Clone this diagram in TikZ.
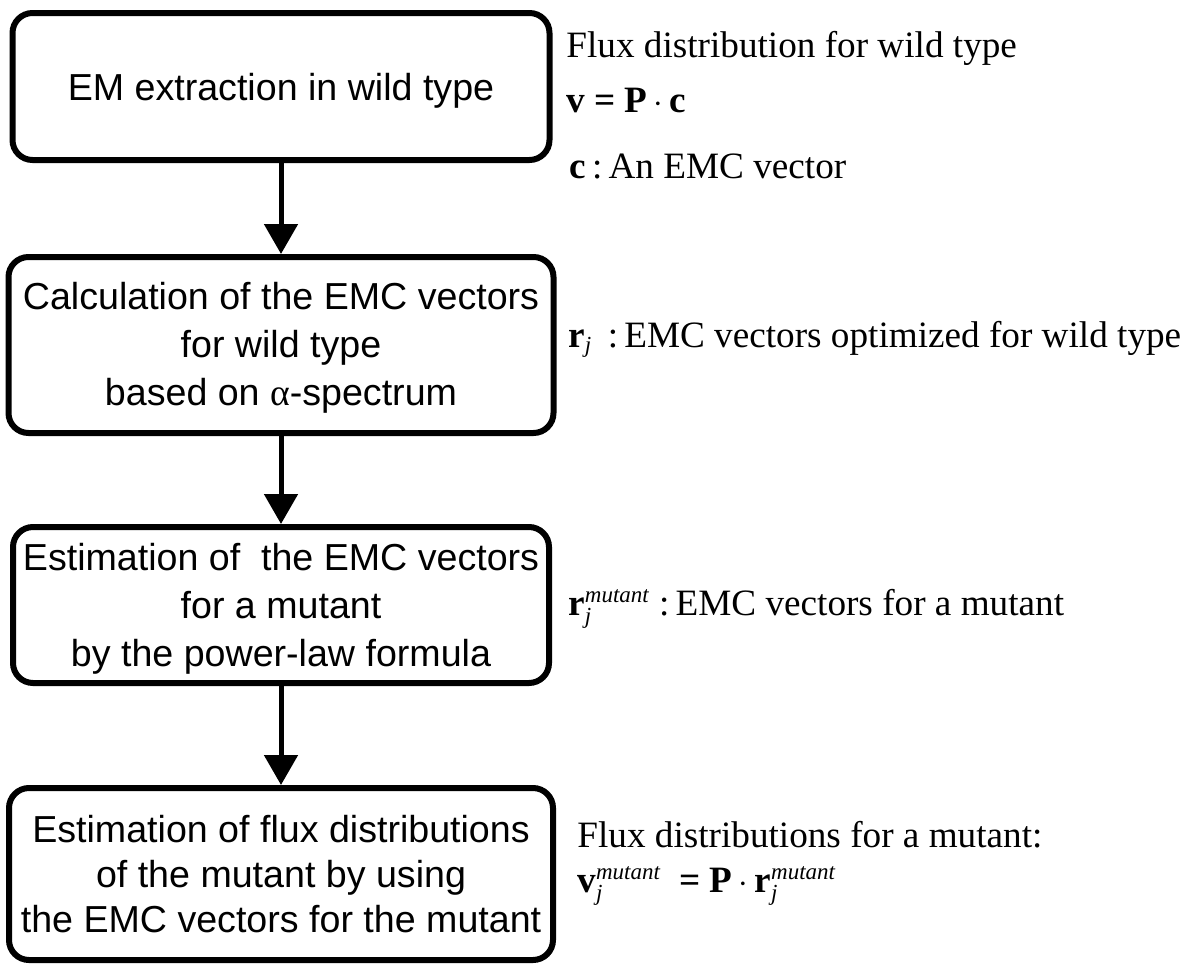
\documentclass[tikz,border=0pt]{standalone}
\usepackage{amsmath}
\usepackage{fontspec}
\setmainfont{Liberation Serif}
\setsansfont{Liberation Sans}
\DeclareMathSizes{18.6}{18.6}{11.5}{8}
\usetikzlibrary{arrows.meta}

\begin{document}
\begin{tikzpicture}[x=0.5pt, y=-0.5pt,
    stepbox/.style={draw, line width=3pt, rounded corners=10pt, align=center,
        inner sep=0pt, font=\sffamily\fontsize{18.8}{24}\selectfont},
    flow/.style={line width=2.5pt, -{Triangle[width=16.5pt,length=15pt]}},
    note/.style={anchor=base west, inner sep=0pt, font=\fontsize{18.6}{22}\selectfont}]
  \useasboundingbox (0,0) rectangle (1200,970);

  % Steps
  \node[stepbox, minimum width=268.5pt, minimum height=73.5pt, text depth=-3pt] (extract) at (281,86.5)
    {EM extraction in wild type};
  \node[stepbox, minimum width=272.5pt, minimum height=88pt, text depth=1pt] (calc) at (281,345)
    {Calculation of the EMC vectors\\ for wild type\\ based on {\rmfamily α}-spectrum};
  \node[stepbox, minimum width=268pt, minimum height=78pt, text depth=-6pt] (estim) at (281,605)
    {Estimation of~ the EMC vectors\\ for a mutant\\ by the power-law formula};
  \node[stepbox, minimum width=272pt, minimum height=86pt, text depth=-2pt,
        font=\sffamily\fontsize{18.8}{22.5}\selectfont] (flux) at (281,874)
    {Estimation of flux distributions\\ of the mutant by using\\ the EMC vectors for the mutant};

  % Arrows
  \draw[flow] (extract) -- (calc);
  \draw[flow] (calc) -- (estim);
  \draw[flow] (estim) -- (flux);

  % Notes
  \node[note] (fluxwt) at (566,57) {Flux distribution for wild type};
  \node[note] (veq) at (566,112) {\textbf{v = P}\,$\cdot$\,\textbf{c}};
  \node[note] (cdef) at (569,178) {\textbf{c}\,:\,An EMC vector};
  \node[note] (rdef) at (568,347) {\textbf{r}$_{\textit{j}}$\ \,:\,EMC vectors optimized for wild type};
  \node[note] (rmut) at (568,615) {\textbf{r}$_{\textit{j}}^{\textit{mutant}}$\ :\,EMC vectors for a mutant};
  \node[note] (fluxmut) at (577,847) {Flux distributions for a mutant:};
  \node[note] (vmut) at (577,892)
    {\textbf{v}$_{\textit{j}}^{\textit{mutant}}$\ \ \textbf{= P}\,$\cdot$\,\textbf{r}$_{\textit{j}}^{\textit{mutant}}$};
\end{tikzpicture}
\end{document}
